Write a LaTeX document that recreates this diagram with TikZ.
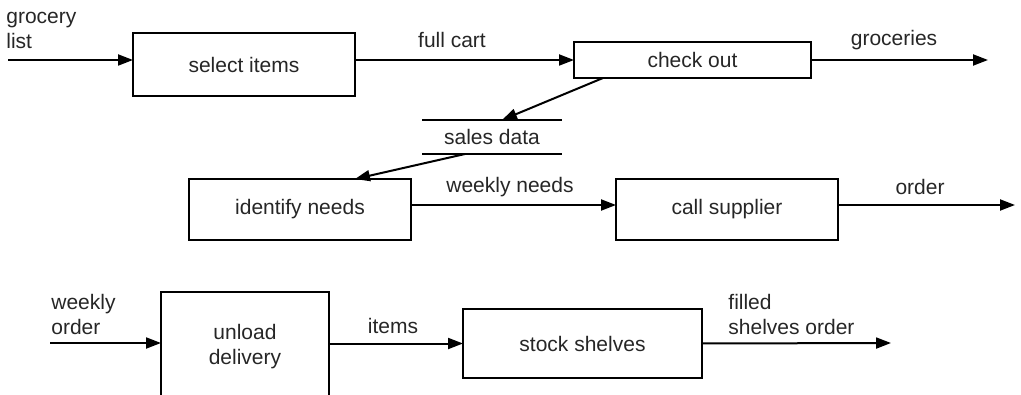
\documentclass[tikz,border=0pt]{standalone}
\usepackage{fontspec}
\setmainfont{Liberation Sans}
\usetikzlibrary{arrows.meta,calc}
\begin{document}
\begin{tikzpicture}[x=0.5pt,y=-0.5pt,
  every node/.style={font=\fontsize{10.5}{12.5}\selectfont, text=black!85},
  procbox/.style={draw, line width=1pt, inner sep=0pt, outer sep=0pt, align=center},
  flow/.style={line width=1pt, -{Triangle[length=7.5pt,width=5.5pt]}},
  lbl/.style={inner sep=0pt, align=left}]
\useasboundingbox (0,0) rectangle (1021,395);
\clip (0,0) rectangle (1021,395);
% process boxes
\node[procbox, minimum width=111pt, minimum height=31.5pt] (select) at (244,64.5) {select items};
\node[procbox, minimum width=118.5pt, minimum height=18pt] (checkout) at (692.5,60) {check out};
\node[inner sep=0pt, outer sep=0pt, minimum width=70pt, minimum height=17pt] (sales) at (492,137) {sales data};
\node[procbox, minimum width=111pt, minimum height=30.5pt] (identify) at (300,209.5) {identify needs};
\node[procbox, minimum width=111pt, minimum height=30.5pt] (call) at (727,209.5) {call supplier};
\node[procbox, minimum width=84pt, minimum height=55pt] (unload) at (245,347) {unload\\delivery};
\node[procbox, minimum width=119.5pt, minimum height=34.5pt] (stock) at (582.5,343.5) {stock shelves};
% data store lines
\draw[line width=1pt] (sales.north west) -- (sales.north east);
\draw[line width=1pt] (sales.south west) -- (sales.south east);
% free ends
\coordinate (inA) at (8,60);
\coordinate (outA) at (988,60);
\coordinate (outB) at (1015,205);
\coordinate (inC) at (50,343);
\coordinate (outC) at (891,343);
% connectors
\draw[flow] (inA) -- (select.west |- inA);
\draw[flow] (select.east |- checkout.west) -- (checkout.west);
\draw[flow] (checkout.east) -- (outA);
\draw[flow] ($(checkout.south west)+(29,0)$) -- ($(sales.north)+(10,0)$);
\draw[flow] ($(sales.south)+(-27,0)$) -- ($(identify.north)+(55,0)$);
\draw[flow] ($(identify.east)+(0,-4.5)$) -- ($(call.west)+(0,-4.5)$);
\draw[flow] ($(call.east)+(0,-4.5)$) -- (outB);
\draw[flow] (inC) -- (unload.west |- inC);
\draw[flow] (unload.east |- stock.west) -- (stock.west);
\draw[flow] (stock.east) -- (outC);
% labels
\node[lbl, anchor=west] (lgl) at (6,30) {grocery\\list};
\node[lbl] (lfc) at (452,40) {full cart};
\node[lbl] (lgr) at (894,40) {groceries};
\node[lbl] (lwn) at (510,187) {weekly needs};
\node[lbl] (lor) at (920,187) {order};
\node[lbl, anchor=west] (lwo) at (51,314) {weekly\\order};
\node[lbl] (lit) at (393,326) {items};
\node[lbl, anchor=west] (lfs) at (728,314) {filled\\shelves order};
\end{tikzpicture}
\end{document}
